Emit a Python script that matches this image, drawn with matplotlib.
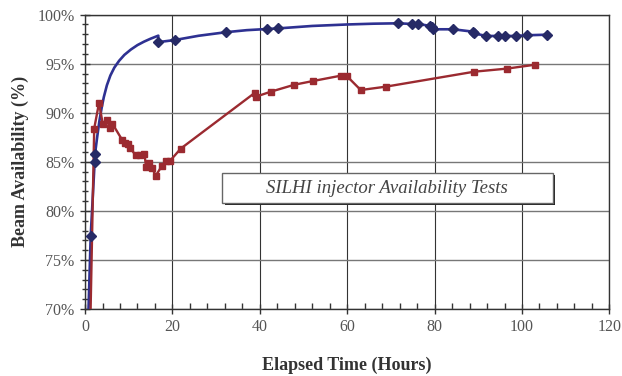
import matplotlib
matplotlib.use("Agg")
import matplotlib.pyplot as plt
from matplotlib.patches import Rectangle
from matplotlib.ticker import MultipleLocator, PercentFormatter

# blue series (line points); blue_marked flags the points that carry a marker
blue_t = [0.8, 1.3, 2.2, 2.3, 2.8, 3.3, 3.8, 4.3, 5.0, 5.8, 6.7, 7.8, 9.0, 10.5,
          12.0, 13.5, 15.0, 16.77,
          16.77, 20.6, 26.0, 32.2, 37.0, 41.7, 44.2, 52.0, 60.0, 66.0,
          71.7, 74.9, 76.3, 79.0, 79.3, 79.6, 84.3, 88.7, 89.0, 91.8,
          94.6, 96.1, 98.6, 101.2, 105.7]
blue_v = [70.0, 77.47, 85.0, 85.85, 87.6, 89.2, 90.5, 91.6, 92.8, 93.8, 94.6, 95.3, 95.9, 96.45,
          96.9, 97.25, 97.55, 97.86,
          97.2, 97.42, 97.85, 98.21, 98.42, 98.54, 98.6, 98.85, 99.0, 99.08,
          99.12, 99.05, 99.05, 98.85, 98.72, 98.51, 98.51, 98.27, 98.1, 97.83,
          97.83, 97.83, 97.83, 97.9, 97.96]
blue_marked = [0, 1, 1, 1, 0, 0, 0, 0, 0, 0, 0, 0, 0, 0,
               0, 0, 0, 0,
               1, 1, 0, 1, 0, 1, 1, 0, 0, 0,
               1, 1, 1, 1, 1, 1, 1, 1, 1, 1,
               1, 1, 1, 1, 1]

# red series
red_t = [1.1, 2.1, 3.2, 4.05, 4.97, 5.72, 6.25, 8.55, 9.15, 9.8, 10.3, 11.6,
         12.6, 13.6, 13.96, 14.7, 15.26, 16.2, 17.6, 18.5, 19.45, 21.9,
         38.9, 39.1, 42.5, 47.9, 52.2, 58.5, 59.9, 63.1, 68.8, 89.1, 96.5, 103.0]
red_v = [66.0, 88.4, 91.0, 88.9, 89.25, 88.45, 88.9, 87.2, 86.95, 86.8, 86.45, 85.65,
         85.65, 85.85, 84.5, 84.85, 84.4, 83.6, 84.6, 85.05, 85.1, 86.35,
         92.05, 91.64, 92.15, 92.86, 93.24, 93.78, 93.75, 92.32, 92.66, 94.19, 94.5, 94.9]

plt.rcParams['font.family'] = ['Liberation Serif', 'DejaVu Serif']

fig = plt.figure(figsize=(6.22, 3.76), dpi=100)
ax = fig.add_axes([0.1367, 0.178, 0.843, 0.783])

ax.plot(blue_t, blue_v, color='#2E3192', lw=1.9, zorder=3)
mk = [i for i, m in enumerate(blue_marked) if m]
ax.plot([blue_t[i] for i in mk], [blue_v[i] for i in mk], 'D', color='#262A66',
        ms=5.5, zorder=4, ls='none')
ax.plot(red_t, red_v, color='#9B2A30', lw=1.7, marker='s', ms=4.5,
        mfc='#9B2A30', mec='#9B2A30', zorder=3)

ax.set_xlim(0, 120)
ax.set_ylim(70, 100)
ax.xaxis.set_major_locator(MultipleLocator(20))
ax.xaxis.set_minor_locator(MultipleLocator(4))
ax.yaxis.set_major_locator(MultipleLocator(5))
ax.yaxis.set_minor_locator(MultipleLocator(1))
ax.yaxis.set_major_formatter(PercentFormatter(decimals=0))

ax.grid(True, which='major', axis='y', color='#777777', lw=1.0)
ax.grid(True, which='major', axis='x', color='#333333', lw=0.8)
ax.set_axisbelow(True)
for s in ax.spines.values():
    s.set_color('#333333')
    s.set_linewidth(1.0)

ax.tick_params(axis='both', which='major', direction='inout', length=7, width=1,
               color='#333333', labelsize=11.5, labelcolor='#555555', pad=4)
ax.tick_params(axis='y', which='minor', direction='inout', length=5, width=1, color='#333333')
ax.tick_params(axis='x', which='minor', direction='in', length=4, width=1, color='#333333')

ax.set_xlabel('Elapsed Time (Hours)', fontsize=13, fontweight='bold', color='#333333', labelpad=15)
ax.set_ylabel('Beam Availability (%)', fontsize=13, fontweight='bold', color='#333333', labelpad=6)

# annotation box with drop shadow
ax.add_patch(Rectangle((0.266, 0.353), 0.631, 0.102, transform=ax.transAxes,
                       facecolor='#222222', edgecolor='none', zorder=5))
ax.add_patch(Rectangle((0.261, 0.36), 0.631, 0.102, transform=ax.transAxes,
                       facecolor='white', edgecolor='#666666', lw=1.0, zorder=6))
ax.text(0.5765, 0.411, 'SILHI injector Availability Tests', transform=ax.transAxes,
        ha='center', va='center', fontsize=13.5, style='italic', color='#444444', zorder=7)

fig.savefig('out.png', dpi=100)
